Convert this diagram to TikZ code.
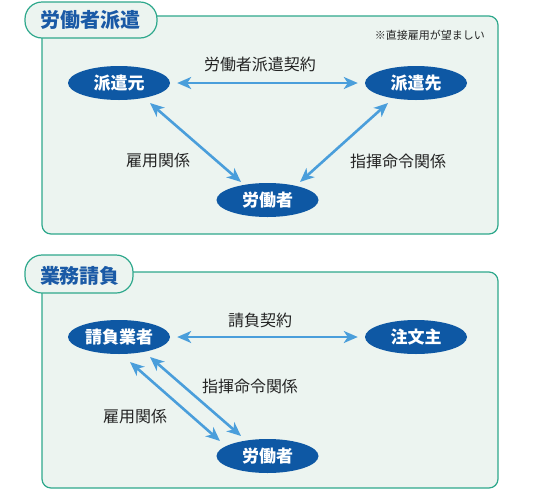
\documentclass[tikz,border=0pt]{standalone}
\usepackage{fontspec}
\setmainfont{Noto Sans CJK JP}
\usetikzlibrary{shapes.geometric,arrows.meta}
\definecolor{panelfill}{RGB}{236,244,240}
\definecolor{panelborder}{RGB}{46,168,140}
\definecolor{dblue}{RGB}{14,88,164}
\definecolor{lblue}{RGB}{74,158,219}
\definecolor{titleblue}{RGB}{26,90,166}
\definecolor{textgray}{RGB}{35,35,35}
\tikzset{
  panel/.style={draw=panelborder,fill=panelfill,line width=1.2pt,rounded corners=9pt},
  tabbox/.style={draw=panelborder,fill=panelfill,line width=1.2pt,rounded corners=17pt},
  titletext/.style={text=titleblue,font=\fontsize{20}{22}\selectfont\bfseries,inner sep=0pt},
  party/.style={ellipse,fill=dblue,text=white,minimum width=102pt,minimum height=34pt,inner sep=0pt,font=\fontsize{17}{19}\selectfont\bfseries},
  rel/.style={text=textgray,font=\fontsize{16}{18}\selectfont,inner sep=0pt},
  note/.style={text=textgray,font=\fontsize{11}{12}\selectfont,inner sep=0pt,anchor=east},
  link/.style={draw=lblue,line width=2.6pt,{Stealth[length=14pt,width=12pt,inset=4pt]}-{Stealth[length=14pt,width=12pt,inset=4pt]}},
}
\begin{document}
\begin{tikzpicture}[x=1pt,y=-1pt]
\useasboundingbox (0,0) rectangle (542,491);
% Panel 1
\path[panel] (42,16) rectangle (498,234);
\path[tabbox] (25,2) rectangle (157,38);
\node[titletext] (t1) at (91,20) {労働者派遣};
\node[note] (n1) at (485,35) {※直接雇用が望ましい};
\node[party] (a1) at (119,83) {派遣元};
\node[party] (b1) at (416,83) {派遣先};
\node[party] (w1) at (267.5,200) {労働者};
\coordinate (a1d) at (150,103);
\coordinate (w1l) at (241,182);
\coordinate (b1d) at (388,103);
\coordinate (w1r) at (300,182);
\draw[link,shorten <=7pt,shorten >=7pt] (a1) -- (b1);
\draw[link] (a1d) -- (w1l);
\draw[link] (b1d) -- (w1r);
\node[rel] (l1) at (260,64) {労働者派遣契約};
\node[rel] (l2) at (158,161) {雇用関係};
\node[rel] (l3) at (398,161) {指揮命令関係};
% Panel 2
\path[panel] (42,272) rectangle (498,488);
\path[tabbox] (25,255) rectangle (133,293);
\node[titletext] (t2) at (80,276) {業務請負};
\node[party] (a2) at (119,337) {請負業者};
\node[party] (b2) at (416,337) {注文主};
\node[party] (w2) at (267.5,456) {労働者};
\coordinate (a2l) at (130,362);
\coordinate (w2l) at (220,441);
\coordinate (a2r) at (150,357);
\coordinate (w2r) at (241,436);
\draw[link,shorten <=7pt,shorten >=7pt] (a2) -- (b2);
\draw[link] (a2l) -- (w2l);
\draw[link] (a2r) -- (w2r);
\node[rel] (l4) at (260,320) {請負契約};
\node[rel] (l5) at (250,386) {指揮命令関係};
\node[rel] (l6) at (135,417) {雇用関係};
\end{tikzpicture}
\end{document}
